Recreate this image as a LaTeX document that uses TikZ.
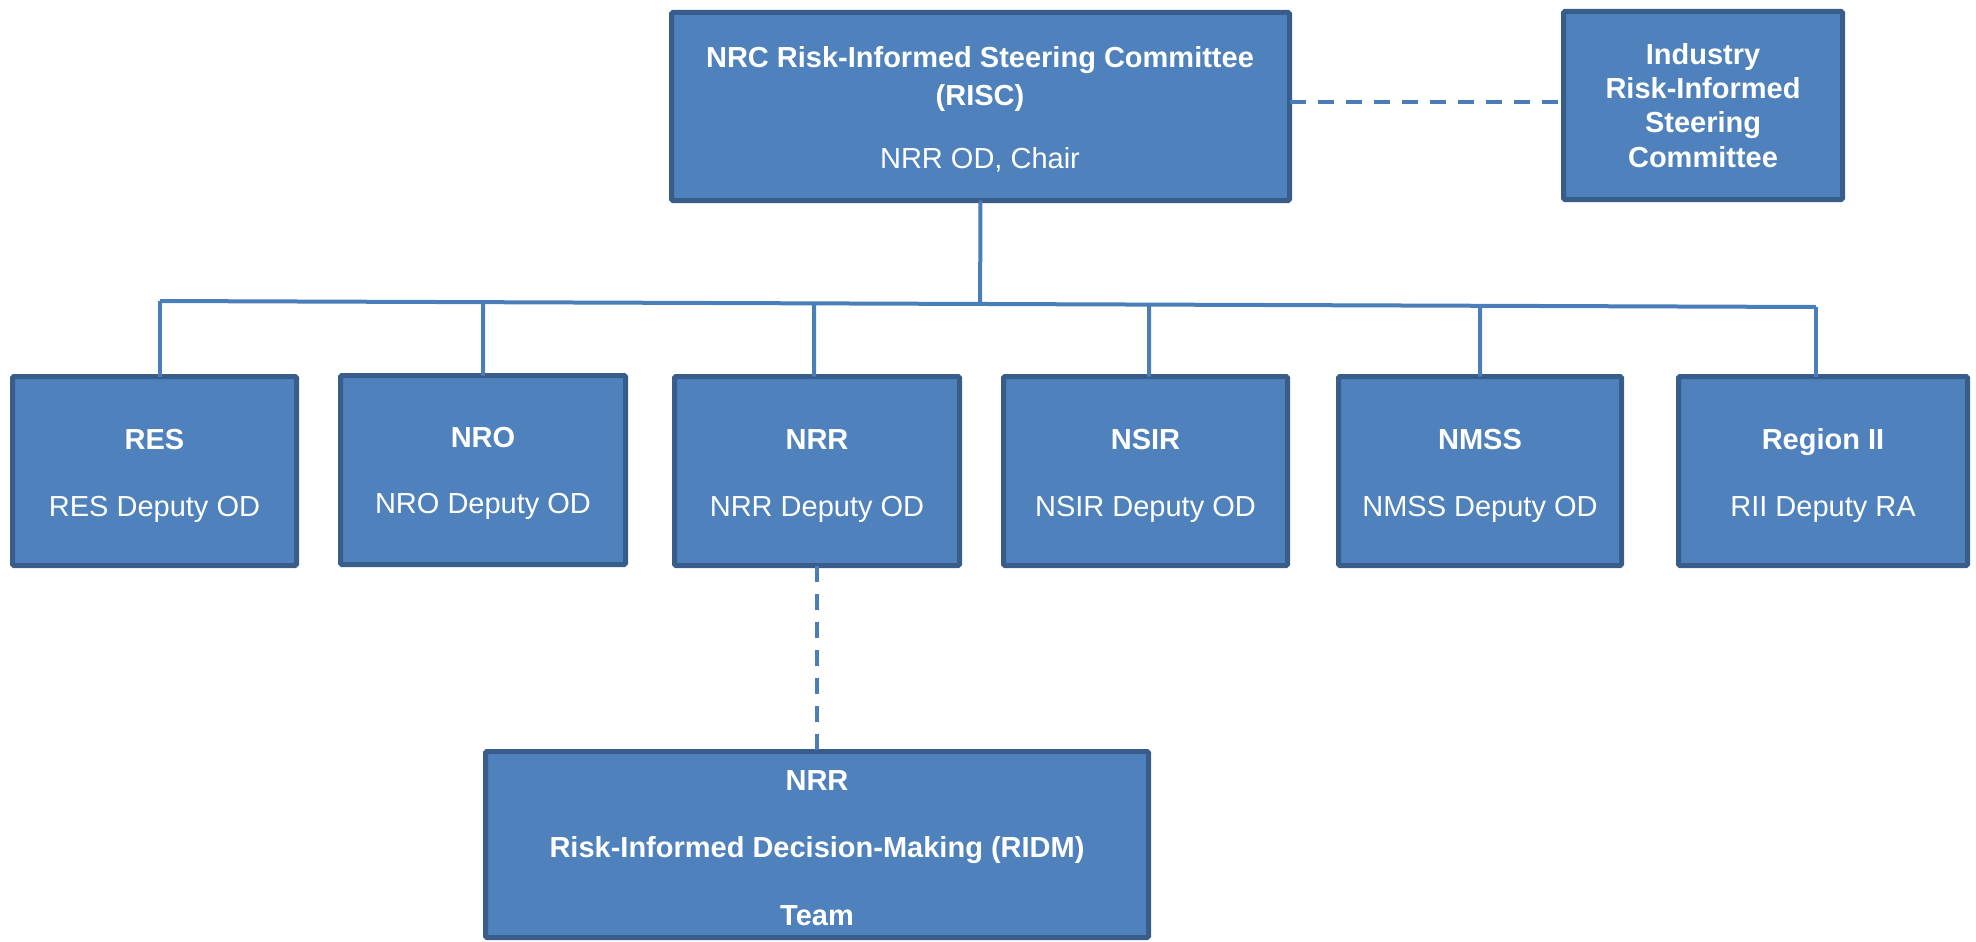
\documentclass[tikz,border=0pt]{standalone}
\usepackage{fontspec}
\setmainfont{Liberation Sans}
\usetikzlibrary{calc}
\definecolor{boxfill}{HTML}{4F81BD}
\definecolor{boxline}{HTML}{385D8A}
\definecolor{conn}{HTML}{4A7EBB}
\begin{document}
\begin{tikzpicture}[x=1pt,y=-1pt,
  orgbox/.style={draw=boxline, fill=boxfill, line width=5pt, rounded corners=1.5pt, inner sep=0pt, outer sep=0pt},
  txt/.style={text=white, font=\fontsize{29}{34}\selectfont, anchor=base, inner sep=0pt},
  btxt/.style={text=white, font=\fontsize{29}{34}\selectfont\bfseries, anchor=base, inner sep=0pt},
  link/.style={draw=conn, line width=4pt},
  dlink/.style={draw=conn, line width=4pt, dash pattern=on 16pt off 12pt}]
\useasboundingbox (0,0) rectangle (1976,942);

% boxes
\node[orgbox, minimum width=618pt, minimum height=188pt] (risc) at (980.5,106.5) {};
\node[orgbox, minimum width=279pt, minimum height=188pt] (ind) at (1703,105.5) {};
\node[orgbox, minimum width=284pt, minimum height=189pt] (res) at (154.5,471) {};
\node[orgbox, minimum width=285pt, minimum height=189pt] (nro) at (483,470) {};
\node[orgbox, minimum width=285pt, minimum height=189pt] (nrr) at (817,471) {};
\node[orgbox, minimum width=284pt, minimum height=189pt] (nsir) at (1145.5,471) {};
\node[orgbox, minimum width=283pt, minimum height=189pt] (nmss) at (1480,471) {};
\node[orgbox, minimum width=289pt, minimum height=189pt] (reg) at (1823,471) {};
\node[orgbox, minimum width=663pt, minimum height=186pt] (ridm) at (817,844.5) {};

% texts
\node[btxt] (t1) at (980,67) {NRC Risk-Informed Steering Committee};
\node[btxt] (t2) at (980,105) {(RISC)};
\node[txt] (t3) at (980,168) {NRR OD, Chair};

\node[btxt] (i1) at (1703,65) {Industry};
\node[btxt] (i2) at (1703,99) {Risk-Informed};
\node[btxt] (i3) at (1703,132) {Steering};
\node[btxt] (i4) at (1703,167) {Committee};

\node[btxt] (r1) at (154.5,449) {RES};
\node[txt] (r2) at (154.5,516) {RES Deputy OD};
\node[btxt] (n1) at (483,447) {NRO};
\node[txt] (n2) at (483,513) {NRO Deputy OD};
\node[btxt] (nr1) at (817,449) {NRR};
\node[txt] (nr2) at (817,516) {NRR Deputy OD};
\node[btxt] (s1) at (1145.5,449) {NSIR};
\node[txt] (s2) at (1145.5,516) {NSIR Deputy OD};
\node[btxt] (m1) at (1480,449) {NMSS};
\node[txt] (m2) at (1480,516) {NMSS Deputy OD};
\node[btxt] (g1) at (1823,449) {Region II};
\node[txt] (g2) at (1823,516) {RII Deputy RA};

\node[btxt] (d1) at (817,790) {NRR};
\node[btxt] (d2) at (817,857) {Risk-Informed Decision-Making (RIDM)};
\node[btxt] (d3) at (817,925) {Team};

% connectors
\coordinate (busL) at (160,301);
\coordinate (busR) at (1816,307);
\coordinate (busM) at ($(busL)!(risc.south)!(busR)$);
\draw[link] (risc.south) -- (busM);
\draw[link] (busL) -- (busR);
\draw[link] (busL) -- (busL |- res.north);
\draw[link] ($(busL)!(nro.north)!(busR)$) -- (nro.north);
\draw[link] ($(busL)!([xshift=-3pt]nrr.north)!(busR)$) -- ([xshift=-3pt]nrr.north);
\draw[link] ($(busL)!([xshift=3.5pt]nsir.north)!(busR)$) -- ([xshift=3.5pt]nsir.north);
\draw[link] ($(busL)!(nmss.north)!(busR)$) -- (nmss.north);
\draw[link] (busR) -- (busR |- reg.north);

\draw[dlink] ([yshift=4.5pt]risc.east) -- ([yshift=4.5pt]risc.east -| ind.west);
\draw[dlink] (nrr.south) -- (nrr.south |- ridm.north);
\end{tikzpicture}
\end{document}
